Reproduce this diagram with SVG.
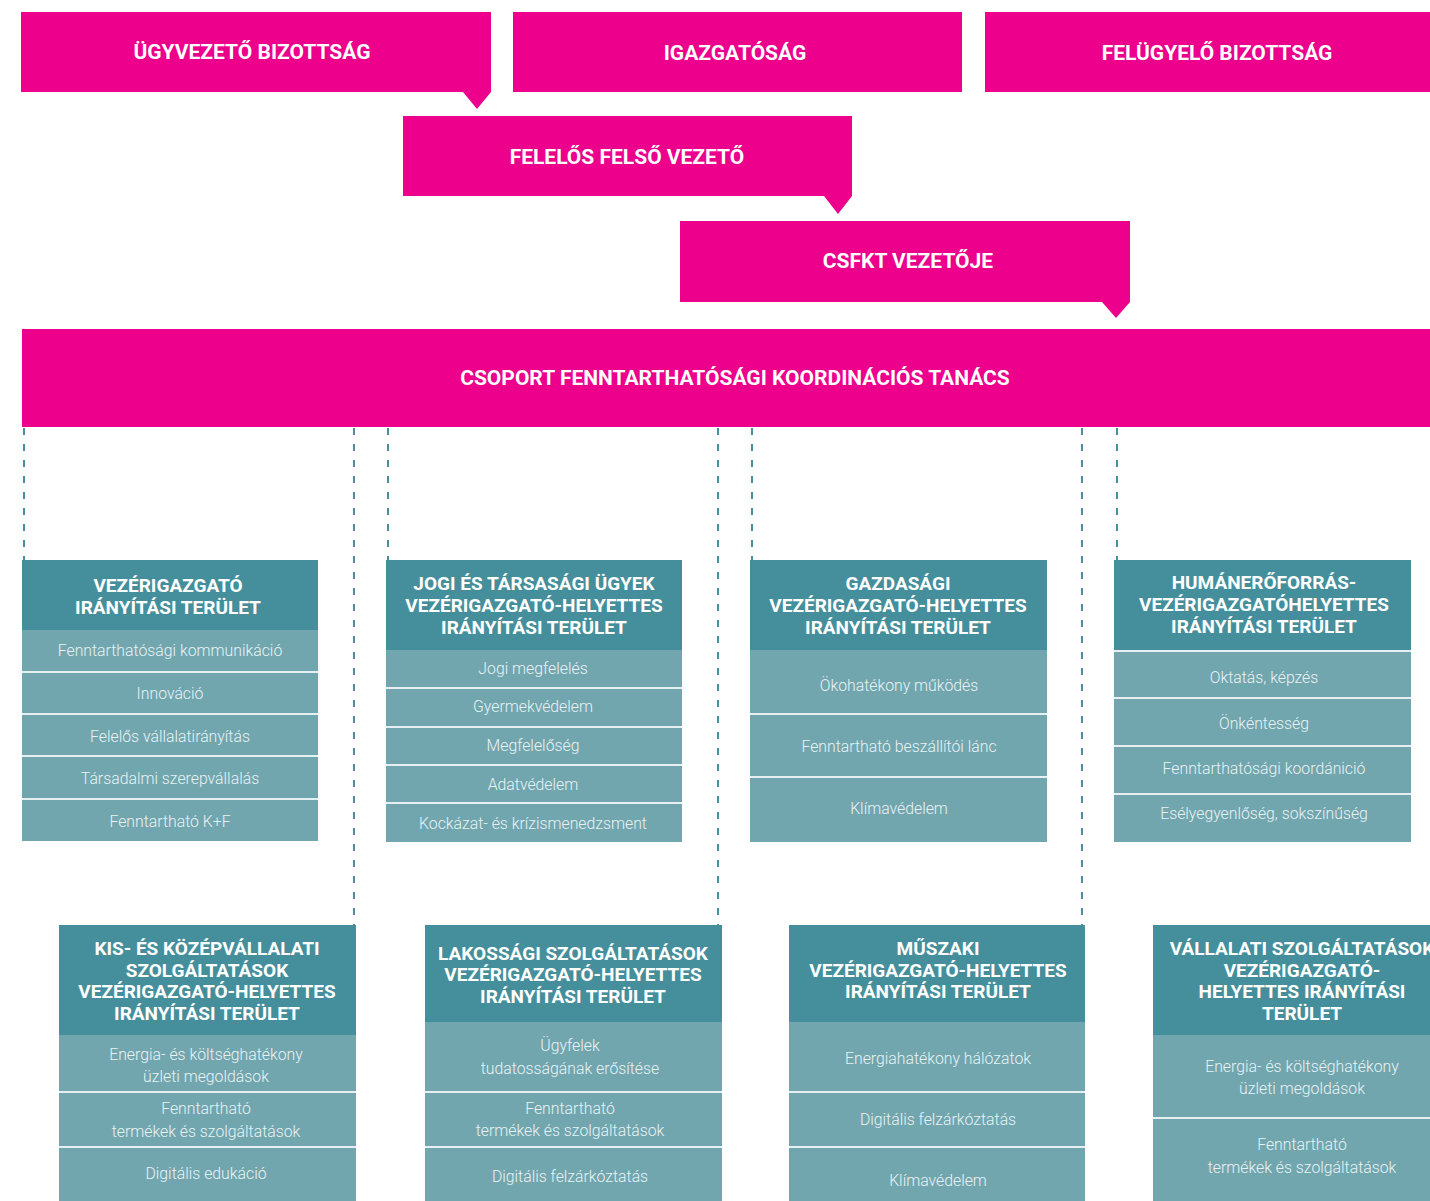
<svg xmlns="http://www.w3.org/2000/svg" width="1430" height="1201" viewBox="0 0 1430 1201">
<style>
.mag{fill:#EC008C}
.mt{font-family:Roboto,"Liberation Sans",sans-serif;font-weight:700;font-size:21px;fill:#fff;text-anchor:middle;letter-spacing:0px}
.hdr{fill:#458F9C}
.body{fill:#72A6AF}
.sep{stroke:#E6F0F2;stroke-width:2}
.ht{font-family:Roboto,"Liberation Sans",sans-serif;font-weight:700;font-size:19px;fill:#fff;text-anchor:middle;letter-spacing:0px}
.it{font-family:Roboto,"Liberation Sans",sans-serif;font-weight:300;font-size:15.8px;fill:#E8F2F4;text-anchor:middle}
.dash{stroke:#4A8F9C;stroke-width:2;stroke-dasharray:7 9;fill:none}
</style>
<rect width="1430" height="1201" fill="#fff"/>

<g id="connectors">
<line class="dash" x1="24" y1="428" x2="24" y2="560"/>
<line class="dash" x1="388" y1="428" x2="388" y2="560"/>
<line class="dash" x1="752" y1="428" x2="752" y2="560"/>
<line class="dash" x1="1117" y1="428" x2="1117" y2="560"/>
<line class="dash" x1="354" y1="428" x2="354" y2="925"/>
<line class="dash" x1="718" y1="428" x2="718" y2="925"/>
<line class="dash" x1="1082" y1="428" x2="1082" y2="925"/>
</g>

<g id="ugyvezeto">
<path class="mag" d="M21 12H491V92L477 109L463 92H21Z"/>
<text class="mt" x="252" y="59">ÜGYVEZETŐ BIZOTTSÁG</text>
</g>
<g id="igazgatosag">
<rect class="mag" x="513" y="12" width="449" height="80"/>
<text class="mt" x="735" y="60">IGAZGATÓSÁG</text>
</g>
<g id="felugyelo">
<rect class="mag" x="985" y="12" width="445" height="80"/>
<text class="mt" x="1217" y="60">FELÜGYELŐ BIZOTTSÁG</text>
</g>
<g id="felelos">
<path class="mag" d="M403 116H852V196L838 214L824 196H403Z"/>
<text class="mt" x="627" y="164">FELELŐS FELSŐ VEZETŐ</text>
</g>
<g id="csfkt">
<path class="mag" d="M680 221H1130V302L1116 318L1102 302H680Z"/>
<text class="mt" x="908" y="268">CSFKT VEZETŐJE</text>
</g>
<g id="csoport">
<rect class="mag" x="22" y="329" width="1408" height="98"/>
<text class="mt" x="735" y="385">CSOPORT FENNTARTHATÓSÁGI KOORDINÁCIÓS TANÁCS</text>
</g>

<g id="vezerigazgato">
<rect class="hdr" x="22" y="560" width="296" height="70"/>
<rect class="body" x="22" y="630" width="296" height="211"/>
<line class="sep" x1="22" y1="672" x2="318" y2="672"/>
<line class="sep" x1="22" y1="714" x2="318" y2="714"/>
<line class="sep" x1="22" y1="756" x2="318" y2="756"/>
<line class="sep" x1="22" y1="799" x2="318" y2="799"/>
<text class="ht" x="168" y="592">VEZÉRIGAZGATÓ</text>
<text class="ht" x="168" y="614">IRÁNYÍTÁSI TERÜLET</text>
<text class="it" x="170" y="656">Fenntarthatósági kommunikáció</text>
<text class="it" x="170" y="699">Innováció</text>
<text class="it" x="170" y="742">Felelős vállalatirányítás</text>
<text class="it" x="170" y="784">Társadalmi szerepvállalás</text>
<text class="it" x="170" y="827">Fenntartható K+F</text>
</g>

<g id="jogi">
<rect class="hdr" x="386" y="560" width="296" height="90"/>
<rect class="body" x="386" y="650" width="296" height="192"/>
<line class="sep" x1="386" y1="688" x2="682" y2="688"/>
<line class="sep" x1="386" y1="727" x2="682" y2="727"/>
<line class="sep" x1="386" y1="765" x2="682" y2="765"/>
<line class="sep" x1="386" y1="803" x2="682" y2="803"/>
<text class="ht" x="534" y="590">JOGI ÉS TÁRSASÁGI ÜGYEK</text>
<text class="ht" x="534" y="612">VEZÉRIGAZGATÓ-HELYETTES</text>
<text class="ht" x="534" y="634">IRÁNYÍTÁSI TERÜLET</text>
<text class="it" x="533" y="674">Jogi megfelelés</text>
<text class="it" x="533" y="712">Gyermekvédelem</text>
<text class="it" x="533" y="751">Megfelelőség</text>
<text class="it" x="533" y="790">Adatvédelem</text>
<text class="it" x="533" y="829">Kockázat- és krízismenedzsment</text>
</g>

<g id="gazdasagi">
<rect class="hdr" x="750" y="560" width="297" height="90"/>
<rect class="body" x="750" y="650" width="297" height="192"/>
<line class="sep" x1="750" y1="714" x2="1047" y2="714"/>
<line class="sep" x1="750" y1="777" x2="1047" y2="777"/>
<text class="ht" x="898" y="590">GAZDASÁGI</text>
<text class="ht" x="898" y="612">VEZÉRIGAZGATÓ-HELYETTES</text>
<text class="ht" x="898" y="634">IRÁNYÍTÁSI TERÜLET</text>
<text class="it" x="899" y="691">Ökohatékony működés</text>
<text class="it" x="899" y="752">Fenntartható beszállítói lánc</text>
<text class="it" x="899" y="814">Klímavédelem</text>
</g>

<g id="humaneroforras">
<rect class="hdr" x="1114" y="560" width="297" height="90"/>
<rect class="body" x="1114" y="650" width="297" height="192"/>
<line class="sep" x1="1114" y1="651" x2="1411" y2="651"/>
<line class="sep" x1="1114" y1="698" x2="1411" y2="698"/>
<line class="sep" x1="1114" y1="746" x2="1411" y2="746"/>
<line class="sep" x1="1114" y1="794" x2="1411" y2="794"/>
<text class="ht" x="1264" y="589">HUMÁNERŐFORRÁS-</text>
<text class="ht" x="1264" y="611">VEZÉRIGAZGATÓHELYETTES</text>
<text class="ht" x="1264" y="633">IRÁNYÍTÁSI TERÜLET</text>
<text class="it" x="1264" y="683">Oktatás, képzés</text>
<text class="it" x="1264" y="729">Önkéntesség</text>
<text class="it" x="1264" y="774">Fenntarthatósági koordánició</text>
<text class="it" x="1264" y="819">Esélyegyenlőség, sokszínűség</text>
</g>

<g id="kkv">
<rect class="hdr" x="59" y="925" width="297" height="110"/>
<rect class="body" x="59" y="1035" width="297" height="166"/>
<line class="sep" x1="59" y1="1092" x2="356" y2="1092"/>
<line class="sep" x1="59" y1="1147" x2="356" y2="1147"/>
<text class="ht" x="207" y="955">KIS- ÉS KÖZÉPVÁLLALATI</text>
<text class="ht" x="207" y="977">SZOLGÁLTATÁSOK</text>
<text class="ht" x="207" y="998">VEZÉRIGAZGATÓ-HELYETTES</text>
<text class="ht" x="207" y="1020">IRÁNYÍTÁSI TERÜLET</text>
<text class="it" x="206" y="1060">Energia- és költséghatékony</text>
<text class="it" x="206" y="1082">üzleti megoldások</text>
<text class="it" x="206" y="1114">Fenntartható</text>
<text class="it" x="206" y="1137">termékek és szolgáltatások</text>
<text class="it" x="206" y="1179">Digitális edukáció</text>
</g>

<g id="lakossagi">
<rect class="hdr" x="425" y="925" width="297" height="97"/>
<rect class="body" x="425" y="1022" width="297" height="179"/>
<line class="sep" x1="425" y1="1092" x2="722" y2="1092"/>
<line class="sep" x1="425" y1="1147" x2="722" y2="1147"/>
<text class="ht" x="573" y="960">LAKOSSÁGI SZOLGÁLTATÁSOK</text>
<text class="ht" x="573" y="981">VEZÉRIGAZGATÓ-HELYETTES</text>
<text class="ht" x="573" y="1003">IRÁNYÍTÁSI TERÜLET</text>
<text class="it" x="570" y="1051">Ügyfelek</text>
<text class="it" x="570" y="1074">tudatosságának erősítése</text>
<text class="it" x="570" y="1114">Fenntartható</text>
<text class="it" x="570" y="1136">termékek és szolgáltatások</text>
<text class="it" x="570" y="1182">Digitális felzárkóztatás</text>
</g>

<g id="muszaki">
<rect class="hdr" x="789" y="925" width="296" height="97"/>
<rect class="body" x="789" y="1022" width="296" height="179"/>
<line class="sep" x1="789" y1="1092" x2="1085" y2="1092"/>
<line class="sep" x1="789" y1="1147" x2="1085" y2="1147"/>
<text class="ht" x="938" y="955">MŰSZAKI</text>
<text class="ht" x="938" y="977">VEZÉRIGAZGATÓ-HELYETTES</text>
<text class="ht" x="938" y="998">IRÁNYÍTÁSI TERÜLET</text>
<text class="it" x="938" y="1064">Energiahatékony hálózatok</text>
<text class="it" x="938" y="1125">Digitális felzárkóztatás</text>
<text class="it" x="938" y="1186">Klímavédelem</text>
</g>

<g id="vallalati">
<rect class="hdr" x="1153" y="925" width="297" height="110"/>
<rect class="body" x="1153" y="1035" width="297" height="166"/>
<line class="sep" x1="1153" y1="1118" x2="1450" y2="1118"/>
<text class="ht" x="1302" y="955">VÁLLALATI SZOLGÁLTATÁSOK</text>
<text class="ht" x="1302" y="977">VEZÉRIGAZGATÓ-</text>
<text class="ht" x="1302" y="998">HELYETTES IRÁNYÍTÁSI</text>
<text class="ht" x="1302" y="1020">TERÜLET</text>
<text class="it" x="1302" y="1072">Energia- és költséghatékony</text>
<text class="it" x="1302" y="1094">üzleti megoldások</text>
<text class="it" x="1302" y="1150">Fenntartható</text>
<text class="it" x="1302" y="1173">termékek és szolgáltatások</text>
</g>
</svg>
